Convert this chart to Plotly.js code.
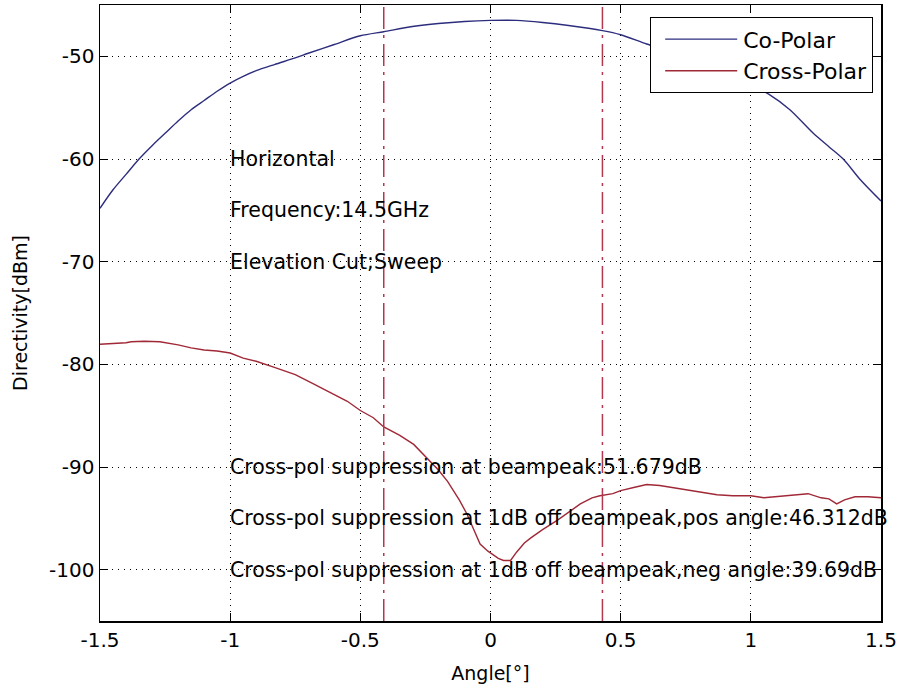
<!DOCTYPE html>
<html>
<head>
<meta charset="utf-8">
<script src="https://cdn.plot.ly/plotly-3.0.1.min.js"></script>
<style>html,body{margin:0;padding:0;background:#fff;}#chart{width:899px;height:693px;}</style>
</head>
<body>
<div id="chart"></div>
<script>
// Co-polar pattern
const coAngle = [-1.5,-1.45,-1.4,-1.35,-1.3,-1.25,-1.2,-1.15,-1.1,-1.05,-1.0,-0.95,-0.9,-0.83,-0.75,-0.7,-0.6,-0.5,-0.41,-0.3,-0.2,-0.1,0,0.1,0.2,0.3,0.43,0.5,0.6,0.7,0.8,0.9,1.0,1.07,1.15,1.24,1.3,1.355,1.42,1.5];
const coValue = [-64.8,-63.0,-61.5,-60.0,-58.7,-57.5,-56.3,-55.2,-54.3,-53.4,-52.6,-51.95,-51.4,-50.8,-50.15,-49.7,-48.85,-48.0,-47.6,-47.1,-46.8,-46.6,-46.5,-46.5,-46.7,-47.0,-47.5,-47.9,-48.8,-49.6,-50.6,-51.6,-52.8,-53.7,-55.2,-57.5,-58.8,-60.0,-62.0,-64.1];

// Cross-polar pattern
const crossAngle = [-1.5,-1.45,-1.4,-1.38,-1.33,-1.27,-1.2,-1.15,-1.1,-1.05,-1.0,-0.95,-0.9,-0.83,-0.75,-0.68,-0.6,-0.55,-0.5,-0.45,-0.41,-0.35,-0.295,-0.25,-0.2,-0.165,-0.12,-0.09,-0.06,-0.04,-0.01,0.03,0.05,0.077,0.1,0.13,0.155,0.2,0.256,0.3,0.345,0.39,0.42,0.47,0.5,0.55,0.6,0.65,0.7,0.75,0.81,0.87,0.93,1.0,1.05,1.1,1.15,1.22,1.27,1.3,1.33,1.36,1.4,1.45,1.5];
const crossValue = [-78.05,-78.0,-77.9,-77.8,-77.75,-77.8,-78.1,-78.4,-78.6,-78.7,-78.9,-79.4,-79.7,-80.3,-81.0,-81.9,-82.9,-83.6,-84.5,-85.2,-86.1,-86.9,-87.8,-89.0,-90.3,-91.4,-93.2,-94.6,-96.3,-97.5,-98.2,-98.9,-99.1,-99.1,-98.3,-97.4,-96.9,-96.1,-95.2,-94.4,-93.6,-93.0,-92.8,-92.6,-92.3,-92.0,-91.7,-91.8,-92.0,-92.2,-92.5,-92.7,-92.8,-92.8,-93.0,-92.9,-92.8,-92.6,-93.0,-93.1,-93.6,-93.2,-92.9,-92.9,-93.0];

// 1 dB off beampeak angles (dash-dot markers)
const markerAngles = [-0.41, 0.43];
const yRange = [-105, -45];

// Text labels
const infoLabels = ["Horizontal", "Frequency:14.5GHz", "Elevation Cut;Sweep"];
const infoY = [-60, -65, -70];
const suppLabels = [
  "Cross-pol suppression at beampeak:51.679dB",
  "Cross-pol suppression at 1dB off beampeak,pos angle:46.312dB",
  "Cross-pol suppression at 1dB off beampeak,neg angle:39.69dB"
];
const suppY = [-90, -95, -100];
const labelX = -1;

const xTicks = [-1.5,-1,-0.5,0,0.5,1,1.5];
const xTickText = ["-1.5","-1","-0.5","0","0.5","1","1.5"];
const yTicks = [-100,-90,-80,-70,-60,-50];
const yTickText = ["-100","-90","-80","-70","-60","-50"];

const FONT = "DejaVu Sans, sans-serif";
const traces = [
  {x: coAngle, y: coValue, type: 'scatter', mode: 'lines', name: 'Co-Polar',
   line: {color: 'rgb(45,45,125)', width: 1.4, shape: 'spline', smoothing: 0.8}},
  {x: crossAngle, y: crossValue, type: 'scatter', mode: 'lines', name: 'Cross-Polar',
   line: {color: 'rgb(160,40,55)', width: 1.4}}
];
markerAngles.forEach(a => traces.push({
  x: [a, a], y: yRange, type: 'scatter', mode: 'lines', showlegend: false, hoverinfo: 'skip',
  line: {color: 'rgb(180,55,80)', width: 1.5, dash: '22px,6px,3px,6px'}
}));

const annotations = [];
infoLabels.forEach((t, i) => annotations.push({x: labelX, y: infoY[i], xref: 'x', yref: 'y', text: t,
  showarrow: false, xanchor: 'left', yanchor: 'middle', xshift: -2, font: {family: FONT, size: 20.5, color: '#000'}}));
suppLabels.forEach((t, i) => annotations.push({x: labelX, y: suppY[i], xref: 'x', yref: 'y', text: t,
  showarrow: false, xanchor: 'left', yanchor: 'middle', xshift: -2, font: {family: FONT, size: 20.5, color: '#000'}}));

const axisCommon = {
  showline: true, linecolor: '#000', linewidth: 1.5, mirror: 'ticks',
  ticks: 'inside', ticklen: 8, tickcolor: '#000', tickwidth: 1,
  showgrid: true, gridcolor: '#000', gridwidth: 1, griddash: '1px,5px',
  zeroline: false, tickfont: {family: FONT, size: 20, color: '#000'}
};

const layout = {
  width: 899, height: 693,
  margin: {l: 100, r: 18, t: 5, b: 72},
  paper_bgcolor: '#fff', plot_bgcolor: '#fff',
  showlegend: true,
  legend: {x: 0.99, y: 0.98, xanchor: 'right', yanchor: 'top', bgcolor: '#fff', itemwidth: 82,
    bordercolor: '#000', borderwidth: 1, font: {family: FONT, size: 22, color: '#000'}},
  xaxis: Object.assign({}, axisCommon, {range: [-1.5, 1.5], tickvals: xTicks, ticktext: xTickText,
    title: {text: 'Angle[°]', font: {family: FONT, size: 19, color: '#000'}, standoff: 16}}),
  yaxis: Object.assign({}, axisCommon, {range: yRange, tickvals: yTicks, ticktext: yTickText,
    title: {text: 'Directivity[dBm]', font: {family: FONT, size: 19, color: '#000'}, standoff: 16}}),
  annotations: annotations
};

Plotly.newPlot('chart', traces, layout, {displayModeBar: false, staticPlot: true}).then(gd => {
  // lengthen the legend line samples to match the MATLAB-style legend
  gd.querySelectorAll('.legend .legendlines path').forEach(p => p.setAttribute('d', 'M14,0h72'));
});
</script>
</body>
</html>
